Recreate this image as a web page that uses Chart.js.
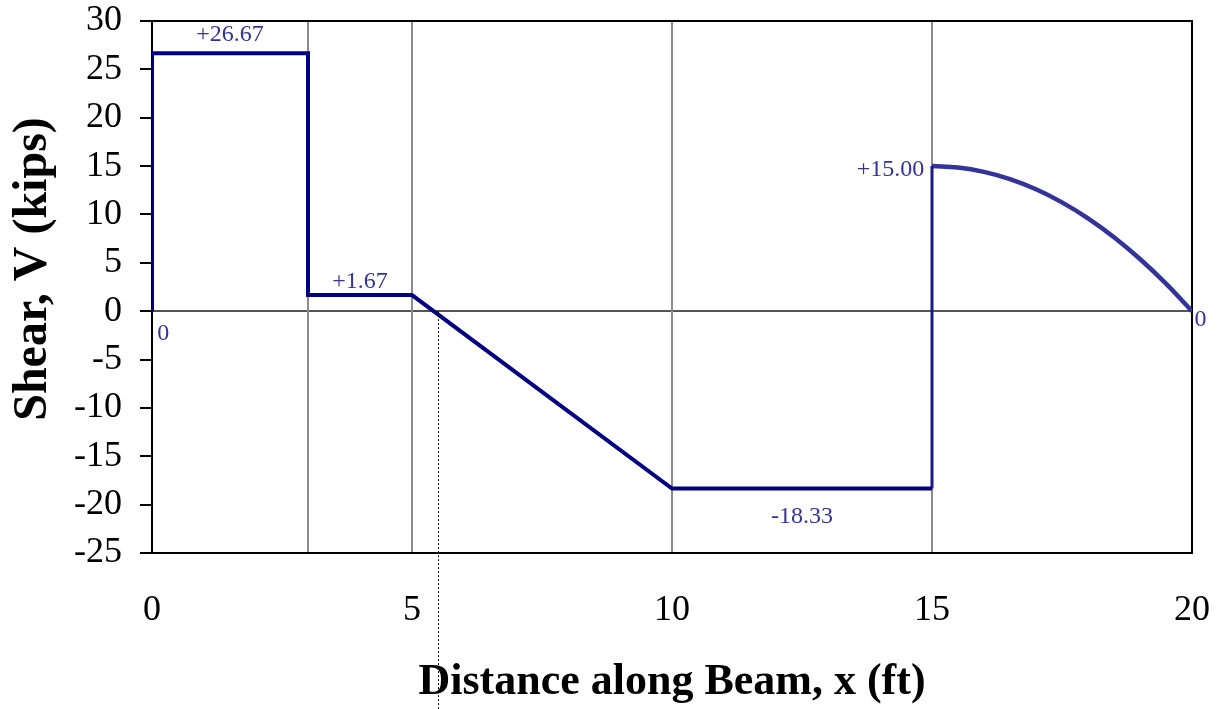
<!DOCTYPE html>
<html>
<head>
<meta charset="utf-8">
<title>Shear diagram</title>
<script src="https://cdn.jsdelivr.net/npm/chart.js@4/dist/chart.umd.min.js"></script>
<style>
  html, body { margin: 0; padding: 0; background: #fff; }
  canvas { display: block; }
</style>
</head>
<body>
<canvas id="shearChart" width="1217" height="709"></canvas>
<script>
"use strict";

// shear values (x in ft, V in kips)
const mainX = [0, 0, 3, 3, 5, 10, 15];
const mainV = [0, 26.67, 26.67, 1.67, 1.67, -18.33, -18.33];

const jumpX = [15, 15];
const jumpV = [-18.33, 15];

const curveX = [15, 15.5, 16, 16.5, 17, 17.5, 18, 18.5, 19, 19.5, 20];
const curveV = [15, 14.85, 14.4, 13.65, 12.6, 11.25, 9.6, 7.65, 5.4, 2.85, 0];

// vertical grid lines and the dotted marker line
const gridX = [3, 5, 10, 15];
const dottedX = 5.5;

// value labels: text and where they sit (data units)
const labelText = ["+26.67", "+1.67", "-18.33", "+15.00", "0", "0"];
const labelX = [1.5, 4, 12.5, 14.85, 0.1, 20.05];
const labelV = [28.6, 3.0, -21.2, 14.6, -2.3, -0.9];
const labelAlign = ["center", "center", "center", "right", "left", "left"];

const xTicks = [0, 5, 10, 15, 20];

const SERIF = "'Liberation Serif', 'Times New Roman', serif";

const toPoints = (xs, vs) => xs.map((x, i) => ({ x: x, y: vs[i] }));

// tick labels may hang outside the plot, so don't let them shrink it
const noLabelPadding = (scale) => {
  scale.paddingTop = 0;
  scale.paddingBottom = 0;
  scale.paddingLeft = 0;
  scale.paddingRight = 0;
};

// draws the frame, the extra grid lines and the value labels
const decorations = {
  id: "decorations",
  beforeDatasetsDraw(chart) {
    const { ctx, chartArea, scales } = chart;
    ctx.save();
    ctx.strokeStyle = "#8c8c8c";
    ctx.lineWidth = 2;
    gridX.forEach((x) => {
      const px = scales.x.getPixelForValue(x);
      ctx.beginPath();
      ctx.moveTo(px, chartArea.top);
      ctx.lineTo(px, chartArea.bottom);
      ctx.stroke();
    });

    // frame, under the shear line
    ctx.strokeStyle = "#000";
    ctx.lineWidth = 2;
    ctx.strokeRect(
      chartArea.left,
      chartArea.top,
      chartArea.right - chartArea.left,
      chartArea.bottom - chartArea.top
    );
    ctx.restore();
  },
  afterDraw(chart) {
    const { ctx, scales } = chart;
    ctx.save();

    // dotted line from the zero crossing down
    const dx = Math.round(scales.x.getPixelForValue(dottedX)) + 0.5;
    ctx.strokeStyle = "#000";
    ctx.lineWidth = 1;
    ctx.setLineDash([2, 2]);
    ctx.beginPath();
    ctx.moveTo(dx, scales.y.getPixelForValue(0));
    ctx.lineTo(dx, chart.height);
    ctx.stroke();
    ctx.setLineDash([]);

    // labels
    ctx.fillStyle = "#333399";
    ctx.font = "24px " + SERIF;
    ctx.textBaseline = "middle";
    labelText.forEach((t, i) => {
      ctx.textAlign = labelAlign[i];
      ctx.fillText(
        t,
        scales.x.getPixelForValue(labelX[i]),
        scales.y.getPixelForValue(labelV[i])
      );
    });
    ctx.restore();
  },
};

const ctx = document.getElementById("shearChart").getContext("2d");
const shearChart = new Chart(ctx, {
  type: "scatter",
  data: {
    datasets: [
      {
        label: "Shear",
        data: toPoints(mainX, mainV),
        showLine: true,
        borderColor: "#000080",
        borderWidth: 4,
        pointRadius: 0,
        tension: 0,
      },
      {
        label: "Jump at 15 ft",
        data: toPoints(jumpX, jumpV),
        showLine: true,
        borderColor: "#1a1a8c",
        borderWidth: 3,
        pointRadius: 0,
        tension: 0,
      },
      {
        label: "Shear (distributed)",
        data: toPoints(curveX, curveV),
        showLine: true,
        borderColor: "#333399",
        borderWidth: 4.5,
        pointRadius: 0,
        tension: 0.4,
      },
    ],
  },
  options: {
    responsive: false,
    devicePixelRatio: 1,
    animation: false,
    layout: { padding: { top: 21, right: 25, left: 0, bottom: 0 } },
    plugins: {
      legend: { display: false },
      tooltip: { enabled: false },
    },
    scales: {
      x: {
        type: "linear",
        min: 0,
        max: 20,
        afterBuildTicks: (scale) => {
          scale.ticks = xTicks.map((v) => ({ value: v }));
        },
        afterFit: (scale) => {
          scale.height = 156;
          noLabelPadding(scale);
        },
        grid: { display: false, drawTicks: false },
        border: { display: false },
        ticks: {
          color: "#000",
          padding: 36,
          maxRotation: 0,
          font: { family: SERIF, size: 36 },
        },
        title: {
          display: true,
          text: "Distance along Beam, x (ft)",
          color: "#000",
          padding: { bottom: 0 },
          font: { family: SERIF, size: 44, weight: "bold" },
        },
      },
      y: {
        type: "linear",
        min: -25,
        max: 30,
        afterFit: (scale) => {
          scale.width = 152;
          noLabelPadding(scale);
        },
        grid: {
          color: (c) => (c.tick && c.tick.value === 0 ? "#555" : "transparent"),
          lineWidth: 2,
          tickColor: "#000",
          tickLength: 12,
        },
        border: { display: false },
        ticks: {
          stepSize: 5,
          color: "#000",
          padding: 18,
          font: { family: SERIF, size: 36 },
        },
        title: {
          display: true,
          text: "   Shear, V (kips)",
          color: "#000",
          padding: { top: 5 },
          font: { family: SERIF, size: 48, weight: "bold" },
        },
      },
    },
  },
  plugins: [decorations],
});
</script>
</body>
</html>
